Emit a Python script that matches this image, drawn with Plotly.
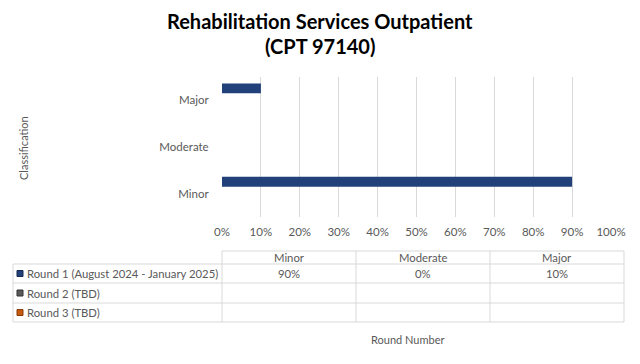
import plotly.graph_objects as go

# ---- data ----
categories = ["Minor", "Moderate", "Major"]
series_names = ["Round 1 (August 2024 - January 2025)", "Round 2 (TBD)", "Round 3 (TBD)"]
round1 = [90, 0, 10]
round2 = [None, None, None]
round3 = [None, None, None]
series_values = [round1, round2, round3]
x_ticks = [0, 10, 20, 30, 40, 50, 60, 70, 80, 90, 100]
title_lines = ["Rehabilitation Services Outpatient", "(CPT 97140)"]

# ---- style ----
W, H = 640, 364
OFF = 8  # page body margin
colors = ["#22407a", "#595959", "#c55a11"]
edge_colors = ["#13284f", "#333333", "#8a3b08"]
offsets = [0.15, -0.07, -0.29]
bar_w = 0.21
txt = "#595959"
grid = "#d9d9d9"
FONT = "Lato, 'Open Sans', sans-serif"

PL, PR, PT, PB = 222 - OFF, 611 - OFF, 77 - OFF, 217 - OFF


def px(x):
    return (x - OFF - PL) / (PR - PL)


def py(y):
    return (PB - (y - OFF)) / (PB - PT)


fig = go.Figure()
for name, vals, c, ec, off in zip(series_names, series_values, colors, edge_colors, offsets):
    fig.add_trace(go.Bar(
        y=categories, x=vals, name=name, orientation="h",
        marker=dict(color=c, line=dict(color=ec, width=0)),
        width=bar_w, offset=off, showlegend=False,
        hovertemplate="%{y}: %{x}%<extra>" + name + "</extra>",
    ))

fig.update_layout(
    width=W, height=H,
    margin=dict(l=PL, r=W - PR, t=PT, b=H - PB, autoexpand=False),
    paper_bgcolor="white", plot_bgcolor="white",
    font=dict(family=FONT, color=txt, size=11),
    barmode="overlay",
)
fig.update_xaxes(
    range=[0, 100], tickvals=x_ticks, ticktext=[f"{v}%" for v in x_ticks],
    showgrid=True, gridcolor=grid, gridwidth=1, zeroline=False,
    ticks="outside", ticklen=4, tickcolor="rgba(0,0,0,0)",
    tickfont=dict(size=11.5, color=txt), showline=False, fixedrange=True,
)
fig.update_yaxes(
    type="category", categoryorder="array", categoryarray=categories,
    range=[-0.5, len(categories) - 0.5],
    showgrid=False, zeroline=False, showline=False,
    ticks="outside", ticklen=10, tickcolor="rgba(0,0,0,0)",
    tickfont=dict(size=11.5, color=txt), fixedrange=True,
)

ann = []
shapes = []
for text, ty in zip(title_lines, [21, 46]):
    ann.append(dict(text="<b>" + text + "</b>", x=px(320), y=py(ty), xref="paper", yref="paper",
                    showarrow=False, font=dict(size=20, color="black", family=FONT),
                    xanchor="center", yanchor="middle"))
ann.append(dict(text="Classification", x=px(23), y=py(148), xref="paper", yref="paper", textangle=-90,
                showarrow=False, font=dict(size=11, color=txt, family=FONT), xanchor="center", yanchor="middle"))
ann.append(dict(text="Round Number", x=px(407), y=py(339), xref="paper", yref="paper",
                showarrow=False, font=dict(size=11, color=txt, family=FONT), xanchor="center", yanchor="middle"))

# data table
col_edges = [222, 356, 490, 624]
label_left = 13
row_edges = [251, 264, 283, 303, 322]
tfs = 11.3


def line(x0, y0, x1, y1):
    shapes.append(dict(type="line", xref="paper", yref="paper", x0=px(x0), y0=py(y0), x1=px(x1), y1=py(y1),
                       line=dict(color=grid, width=1)))


line(col_edges[0], row_edges[0], col_edges[-1], row_edges[0])
for y in row_edges[1:]:
    line(label_left, y, col_edges[-1], y)
for x in col_edges:
    line(x, row_edges[0], x, row_edges[-1])
line(label_left, row_edges[1], label_left, row_edges[-1])

for i, cat in enumerate(categories):
    cx = (col_edges[i] + col_edges[i + 1]) / 2
    cy = (row_edges[0] + row_edges[1]) / 2
    ann.append(dict(text=cat, x=px(cx), y=py(cy), xref="paper", yref="paper", showarrow=False,
                    font=dict(size=tfs, color=txt, family=FONT), xanchor="center", yanchor="middle"))
for r, (name, vals, c, ec) in enumerate(zip(series_names, series_values, colors, edge_colors)):
    cy = (row_edges[r + 1] + row_edges[r + 2]) / 2
    shapes.append(dict(type="rect", xref="paper", yref="paper", x0=px(17), x1=px(23), y0=py(cy + 3), y1=py(cy - 3),
                       fillcolor=c, line=dict(color=ec, width=1)))
    ann.append(dict(text=name, x=px(25), y=py(cy), xref="paper", yref="paper", showarrow=False,
                    font=dict(size=tfs, color=txt, family=FONT), xanchor="left", yanchor="middle"))
    for i, v in enumerate(vals):
        if v is None:
            continue
        cx = (col_edges[i] + col_edges[i + 1]) / 2
        ann.append(dict(text=f"{v}%", x=px(cx), y=py(cy), xref="paper", yref="paper", showarrow=False,
                        font=dict(size=tfs, color=txt, family=FONT), xanchor="center", yanchor="middle"))

fig.update_layout(annotations=ann, shapes=shapes)
fig.write_html("out.html")
